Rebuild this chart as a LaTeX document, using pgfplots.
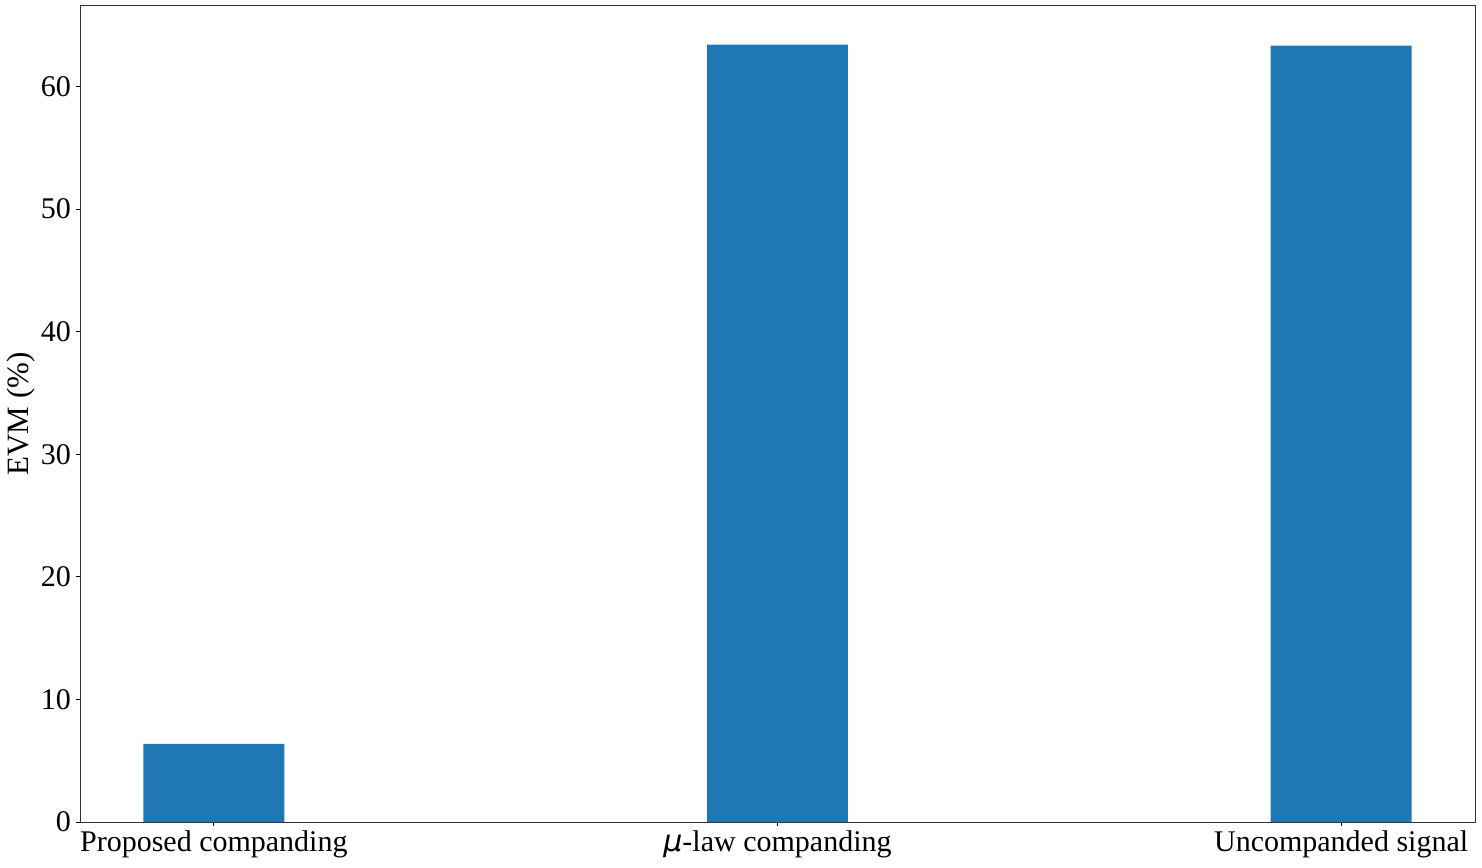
\documentclass[border=0pt]{standalone}
\usepackage{fontspec}
\setmainfont{Liberation Serif}
\newfontfamily\dejavu{DejaVu Sans}
\usepackage{pgfplots}
\pgfplotsset{compat=1.18}
\definecolor{mplblue}{HTML}{1F77B4}

\begin{document}
\begin{tikzpicture}
  \path[use as bounding box] (0,0) rectangle (741pt,433.5pt);
  \begin{axis}[
    at={(40pt,22.5pt)}, anchor=south west,
    scale only axis,
    width=697.5pt, height=408pt,
    xmin=-0.2375, xmax=2.2375,
    ymin=0, ymax=66.57,
    xtick={0,1,2},
    xticklabels={Proposed companding, {{\dejavu\itshape μ}-law companding}, Uncompanded signal},
    ytick={0,10,20,30,40,50,60},
    tick align=outside,
    major tick length=2pt,
    tick style={black, line width=0.4pt},
    axis line style={line width=0.5pt, black!80},
    xtick pos=bottom, ytick pos=left,
    ticklabel style={font=\fontsize{15}{18}\selectfont},
    /pgf/number format/assume math mode=true,
    ylabel={EVM (\%)},
    ylabel style={font=\fontsize{15.5}{18}\selectfont, yshift=-4pt},
    xticklabel style={yshift=1pt},
    yticklabel style={xshift=1pt},
  ]
    \addplot[ybar, bar width=0.25, fill=mplblue, draw=none] coordinates {
      (0, 6.37)
      (1, 63.42)
      (2, 63.33)
    };
  \end{axis}
\end{tikzpicture}
\end{document}
